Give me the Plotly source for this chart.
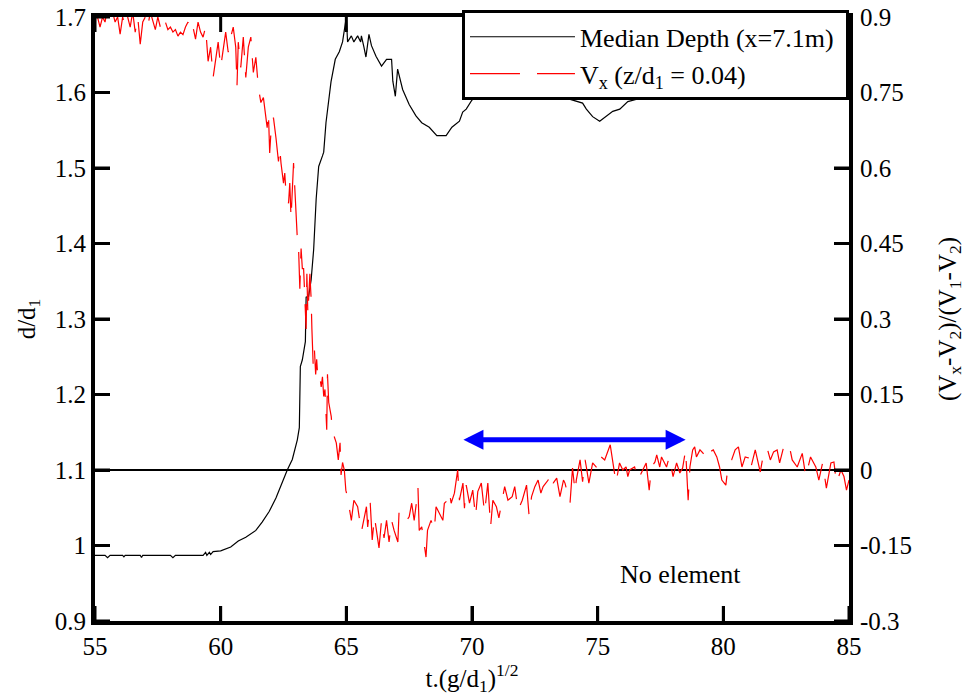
import plotly.graph_objects as go

# ---- Median depth (left axis, d/d1) ----
depth_t = [55.0, 55.4, 55.5, 55.6, 56.1, 56.15, 56.2, 56.8, 56.85, 56.9, 58.0, 58.1, 58.2, 59.3, 59.4,
           59.45, 59.55, 59.6, 59.7, 60.0, 60.4, 60.7, 61.0, 61.4, 61.65, 61.93, 62.2, 62.45, 62.65,
           62.85, 63.05, 63.13, 63.17, 63.25, 63.37, 63.4, 63.5, 63.6, 63.7, 63.8, 63.9, 64.05, 64.1,
           64.19, 64.39, 64.56, 64.72, 64.85, 64.92, 65.0, 65.05, 65.2, 65.3, 65.45, 65.57, 65.6, 65.7,
           65.78, 65.9, 66.0, 66.18, 66.4, 66.6, 66.8, 66.85, 66.95, 67.04, 67.24, 67.5, 67.77, 68.0,
           68.3, 68.6, 68.97, 69.2, 69.5, 69.63, 69.77, 70.0, 70.5, 71.0, 71.5, 72.0, 72.5, 73.0, 73.5,
           74.0, 74.4, 74.55, 74.8, 75.08, 75.3, 75.6, 75.88, 76.2, 77.0, 78.0, 79.0, 80.0, 81.0, 82.0,
           83.0, 84.0, 85.0]
depth_d = [0.987, 0.987, 0.984, 0.987, 0.987, 0.985, 0.987, 0.987, 0.984, 0.987, 0.987, 0.984, 0.987,
           0.987, 0.991, 0.987, 0.991, 0.988, 0.992, 0.993, 0.998, 1.006, 1.011, 1.020, 1.031, 1.045,
           1.063, 1.085, 1.100, 1.114, 1.140, 1.156, 1.237, 1.246, 1.270, 1.329, 1.330, 1.352, 1.392,
           1.459, 1.502, 1.516, 1.521, 1.560, 1.614, 1.644, 1.654, 1.667, 1.684, 1.700, 1.667, 1.675,
           1.667, 1.675, 1.667, 1.675, 1.660, 1.647, 1.677, 1.662, 1.648, 1.635, 1.644, 1.644, 1.615,
           1.595, 1.631, 1.604, 1.584, 1.569, 1.560, 1.554, 1.543, 1.543, 1.554, 1.562, 1.574, 1.578,
           1.590, 1.600, 1.605, 1.610, 1.610, 1.605, 1.600, 1.595, 1.590, 1.586, 1.578, 1.568, 1.562,
           1.568, 1.575, 1.578, 1.588, 1.595, 1.600, 1.605, 1.610, 1.610, 1.610, 1.605, 1.600, 1.600]

# ---- Velocity ratio (right axis) ----
vel_t = [55.0, 55.1, 55.2, 55.3, 55.4, 55.5, 55.6, 55.7, 55.8, 55.9, 56.0, 56.1, 56.2, 56.3, 56.4, 56.5,
         56.6, 56.7, 56.8, 56.9, 57.0, 57.1, 57.2, 57.3, 57.4, 57.5, 57.6, 57.7, 57.8, 57.9, 58.0, 58.1,
         58.2, 58.3, 58.4, 58.5, 58.6, 58.7, 58.8, 58.9, 59.0, 59.1, 59.2, 59.3, 59.4, 59.5, 59.6, 59.7,
         59.8, 59.9, 60.0, 60.1, 60.2, 60.3, 60.4, 60.5, 60.6, 60.65, 60.7, 60.8, 60.9, 61.0, 61.1, 61.2,
         61.3, 61.4, 61.5, 61.6, 61.7, 61.8, 61.85, 61.9, 61.95, 62.0, 62.1, 62.2, 62.3, 62.35, 62.4,
         62.5, 62.55, 62.6, 62.7, 62.75, 62.8, 62.9, 62.95, 63.0, 63.05, 63.1, 63.15, 63.2, 63.25, 63.3,
         63.35, 63.4, 63.43, 63.47, 63.55, 63.6, 63.63, 63.68, 63.73, 63.78, 63.82, 63.87, 63.95, 64.0,
         64.05, 64.1, 64.15, 64.2, 64.22, 64.25, 64.3, 64.4, 64.45, 64.52, 64.6, 64.68, 64.75, 64.79,
         64.85, 64.92, 64.98, 65.05, 65.2, 65.3, 65.45, 65.6, 65.8, 65.85, 65.95, 66.03, 66.12, 66.3,
         66.4, 66.5, 66.6, 66.7, 66.8, 66.9, 67.05, 67.1, 67.25, 67.4, 67.5, 67.6, 67.7, 67.8, 67.85,
         67.9, 68.0, 68.17, 68.23, 68.37, 68.5, 68.57, 68.7, 68.84, 68.9, 69.03, 69.1, 69.17, 69.3,
         69.43, 69.5, 69.64, 69.7, 69.77, 69.9, 70.03, 70.14, 70.23, 70.37, 70.5, 70.63, 70.74, 70.83,
         70.97, 71.07, 71.17, 71.3, 71.43, 71.6, 71.7, 71.83, 72.0, 72.17, 72.27, 72.37, 72.5, 72.63,
         72.74, 72.83, 73.03, 73.1, 73.23, 73.37, 73.5, 73.64, 73.7, 73.77, 73.9, 74.0, 74.1, 74.15,
         74.3, 74.4, 74.5, 74.55, 74.65, 74.8, 75.05, 75.14, 75.28, 75.5, 75.6, 75.73, 75.87, 76.0,
         76.13, 76.2, 76.27, 76.47, 76.6, 76.8, 76.93, 77.05, 77.14, 77.28, 77.35, 77.47, 77.54, 77.74,
         77.85, 78.0, 78.14, 78.27, 78.38, 78.5, 78.6, 78.67, 78.78, 78.86, 78.93, 79.07, 79.2, 79.34,
         79.47, 79.6, 79.74, 79.85, 79.94, 80.1, 80.2, 80.33, 80.47, 80.6, 80.74, 80.87, 81.0, 81.07,
         81.27, 81.47, 81.6, 81.74, 81.87, 82.0, 82.14, 82.24, 82.4, 82.6, 82.74, 82.94, 83.14, 83.28,
         83.47, 83.68, 83.8, 83.95, 84.1, 84.28, 84.4, 84.5, 84.68, 84.8, 84.9, 85.0]
vel_v = [0.91, 0.90, 0.88, 0.90, 0.89, 0.92, 0.90, 0.91, 0.89, 0.90, 0.866, 0.90, 0.88, 0.90, 0.88, 0.91,
         0.87, 0.90, 0.846, 0.89, 0.90, 0.88, 0.91, 0.89, 0.875, 0.90, 0.88, 0.87, 0.89, 0.875, 0.88,
         0.87, 0.875, 0.862, 0.87, 0.865, 0.88, 0.89, 0.87, 0.88, 0.856, 0.89, 0.87, 0.86, 0.88, 0.812,
         0.84, 0.78, 0.82, 0.85, 0.80, 0.84, 0.87, 0.83, 0.86, 0.88, 0.84, 0.763, 0.85, 0.80, 0.86, 0.78,
         0.84, 0.86, 0.79, 0.82, 0.76, 0.73, 0.74, 0.70, 0.68, 0.71, 0.63, 0.67, 0.70, 0.66, 0.613, 0.64,
         0.61, 0.57, 0.59, 0.55, 0.53, 0.57, 0.50, 0.61, 0.55, 0.49, 0.46, 0.44, 0.36, 0.44, 0.40, 0.40,
         0.33, 0.28, 0.39, 0.31, 0.39, 0.34, 0.28, 0.21, 0.24, 0.19, 0.22, 0.18, 0.185, 0.165, 0.185,
         0.146, 0.16, 0.114, 0.08, 0.19, 0.134, 0.106, 0.074, 0.066, 0.054, 0.02, 0.054, -0.01, 0.015,
         0.0, -0.04, -0.055, -0.1, -0.06, -0.073, -0.123, -0.073, -0.113, -0.065, -0.139, -0.093, -0.155,
         -0.1, -0.135, -0.1, -0.143, -0.1, -0.12, -0.143, -0.08, -0.093, -0.1, -0.093, -0.066, -0.1,
         -0.06, -0.035, -0.12, -0.113, -0.173, -0.12, -0.1, -0.12, -0.073, -0.085, -0.1, -0.066, -0.06,
         -0.043, -0.066, -0.046, 0.0, -0.06, -0.026, -0.076, -0.03, -0.066, -0.04, -0.093, -0.043,
         -0.026, -0.085, -0.026, -0.113, -0.06, -0.073, -0.095, -0.066, -0.033, -0.06, -0.053, -0.033,
         -0.08, -0.06, -0.03, -0.09, -0.053, -0.033, -0.02, -0.046, -0.033, -0.02, -0.006, -0.026,
         -0.016, -0.053, -0.02, -0.026, -0.04, -0.066, 0.004, -0.043, -0.02, 0.02, -0.023, 0.02, 0.006,
         -0.026, 0.014, 0.0, 0.026, 0.02, 0.05, 0.014, -0.026, 0.014, 0.0, 0.006, -0.013, 0.0, 0.006,
         -0.02, 0.0, 0.014, -0.04, 0.006, 0.016, 0.03, 0.006, 0.026, 0.006, 0.026, -0.013, 0.014,
         -0.006, 0.004, 0.04, -0.06, 0.006, 0.04, 0.046, 0.026, 0.04, 0.033, 0.02, 0.036, 0.04, 0.026,
         0.006, -0.02, -0.03, 0.014, 0.02, 0.04, 0.046, 0.006, 0.026, 0.024, 0.0, 0.04, -0.004, 0.033,
         0.044, 0.02, 0.036, 0.04, 0.014, 0.046, 0.054, 0.02, 0.006, 0.033, -0.013, 0.026, 0.006, -0.02,
         0.014, -0.036, 0.014, 0.016, -0.026, 0.0, -0.013, -0.04, -0.02]

left_ticks = [0.9, 1.0, 1.1, 1.2, 1.3, 1.4, 1.5, 1.6, 1.7]
left_labels = ["0.9", "1", "1.1", "1.2", "1.3", "1.4", "1.5", "1.6", "1.7"]
right_ticks = [-0.3, -0.15, 0.0, 0.15, 0.3, 0.45, 0.6, 0.75, 0.9]
right_labels = ["-0.3", "-0.15", "0", "0.15", "0.3", "0.45", "0.6", "0.75", "0.9"]
x_ticks = [55, 60, 65, 70, 75, 80, 85]

FONT = "Liberation Serif"
W, H = 965, 699
M = dict(l=95, r=116, t=17, b=78)
PLOT_W = W - M["l"] - M["r"]
PLOT_H = H - M["t"] - M["b"]
TICK_PX = 15

fig = go.Figure()
fig.add_trace(go.Scatter(
    x=depth_t, y=depth_d, mode="lines", name="Median Depth (x=7.1m)\u00a0",
    line=dict(color="black", width=1.2), xaxis="x", yaxis="y"))
fig.add_trace(go.Scatter(
    x=vel_t, y=vel_v, mode="lines", name="V<sub>x</sub> (z/d<sub>1</sub> = 0.04)",
    line=dict(color="#ff0000", width=1.2, dash="50px,17px"), xaxis="x", yaxis="y2"))

fig.add_annotation(x=78.5, y=1.14, ax=69.6, ay=1.14, xref="x", yref="y", axref="x", ayref="y",
                   text="", showarrow=True, arrowhead=2, arrowside="end+start",
                   arrowsize=0.8, arrowwidth=5, arrowcolor="#0000ff")
fig.add_annotation(x=78.3, y=0.962, xref="x", yref="y", text="No element", showarrow=False,
                   font=dict(family=FONT, size=26, color="black"))

# inward tick marks on all four sides of the frame, placed at the axis tick values
tick_line = dict(color="black", width=3)
fy = TICK_PX / PLOT_H
fx = TICK_PX / PLOT_W
for t in x_ticks:
    fig.add_shape(type="line", xref="x", yref="paper", x0=t, x1=t, y0=0, y1=fy, line=tick_line)
    fig.add_shape(type="line", xref="x", yref="paper", x0=t, x1=t, y0=1 - fy, y1=1, line=tick_line)
for t in left_ticks:
    fig.add_shape(type="line", xref="paper", yref="y", x0=0, x1=fx, y0=t, y1=t, line=tick_line)
for t in right_ticks:
    fig.add_shape(type="line", xref="paper", yref="y2", x0=1 - fx, x1=1, y0=t, y1=t, line=tick_line)

fig.update_layout(
    width=W, height=H,
    margin=dict(M, autoexpand=False),
    paper_bgcolor="white", plot_bgcolor="white",
    font=dict(family=FONT, size=25, color="black"),
    showlegend=True,
    legend=dict(x=0.4867, y=1.011, xanchor="left", yanchor="top", bgcolor="white",
                bordercolor="black", borderwidth=3, font=dict(family=FONT, size=26, color="black"),
                itemwidth=105, tracegroupgap=0),
    xaxis=dict(range=[55, 85], tickvals=x_ticks, ticks="inside", ticklen=TICK_PX, tickwidth=3,
               tickcolor="black", showline=True, linewidth=4, linecolor="black",
               mirror=True, showgrid=False, zeroline=False, automargin=False,
               title=dict(text="t.(g/d<sub>1</sub>)<sup>1/2</sup>", standoff=6,
                          font=dict(family=FONT, size=25))),
    yaxis=dict(range=[0.9, 1.7], tickvals=left_ticks, ticktext=left_labels, ticks="inside",
               ticklen=TICK_PX, tickwidth=3, tickcolor="black", showline=True, linewidth=4,
               linecolor="black", mirror=True, showgrid=False, zeroline=False, automargin=False,
               title=dict(text="d/d<sub>1</sub>", standoff=13, font=dict(family=FONT, size=25))),
    yaxis2=dict(range=[-0.3, 0.9], tickvals=right_ticks, ticktext=right_labels, overlaying="y",
                side="right", showline=False, ticks="inside", ticklen=TICK_PX, tickwidth=3,
                tickcolor="black", showgrid=False, ticklabelstandoff=10, automargin=False,
                zeroline=True, zerolinecolor="black", zerolinewidth=1.5,
                title=dict(text="(V<sub>x</sub>-V<sub>2</sub>)/(V<sub>1</sub>-V<sub>2</sub>)",
                           standoff=30, font=dict(family=FONT, size=25))),
)

fig.write_html("out.html")
